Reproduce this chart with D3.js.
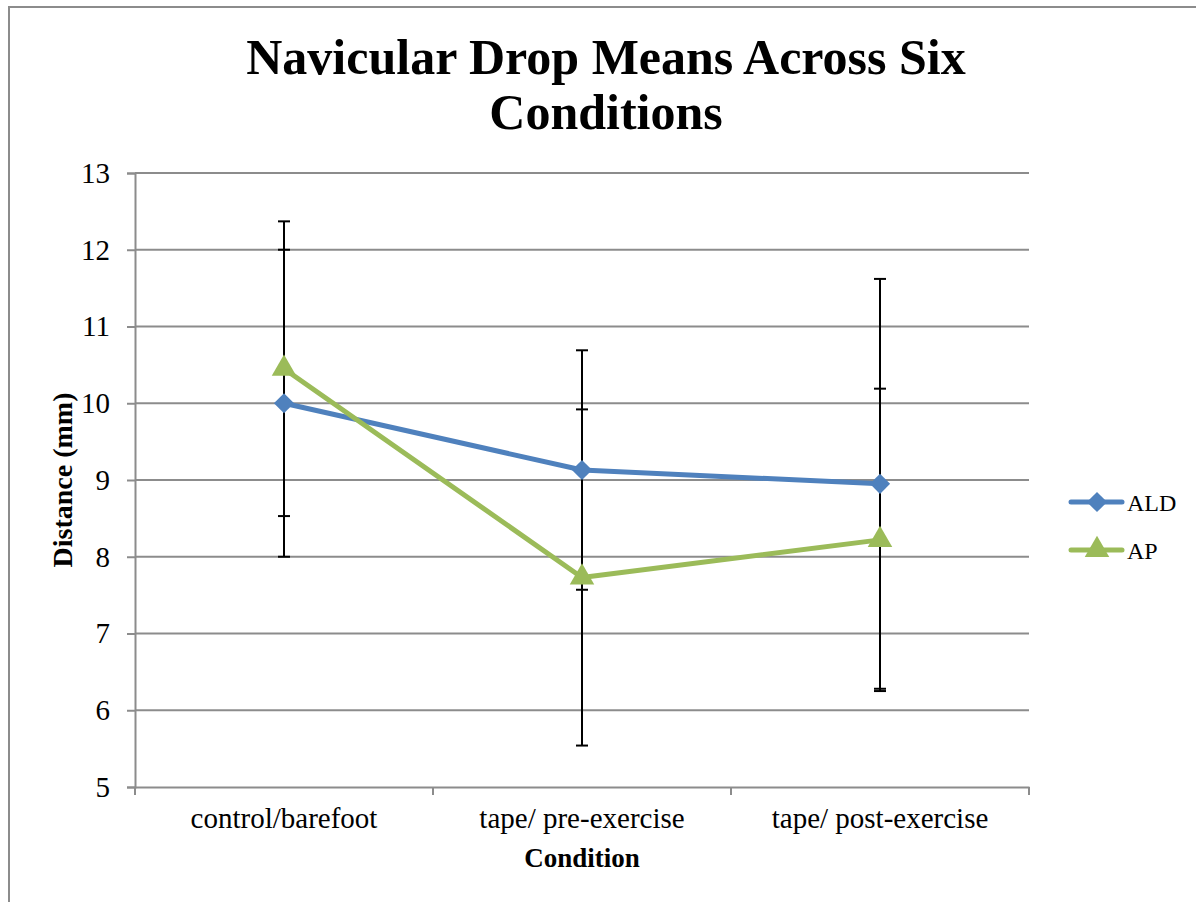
<!DOCTYPE html>
<html>
<head>
<meta charset="utf-8">
<script src="https://cdn.jsdelivr.net/npm/d3@7"></script>
<style>
  html, body { margin: 0; padding: 0; background: #fff; }
  svg { display: block; }
  text { font-family: "Liberation Serif", "DejaVu Serif", serif; }
</style>
</head>
<body>
<svg id="chart" width="1196" height="902"></svg>
<script>
const categories = ["control/barefoot", "tape/ pre-exercise", "tape/ post-exercise"];
const seriesNames = ["ALD", "AP"];
const aldMeans = [10.0, 9.13, 8.95];
const aldErrors = [2.0, 1.56, 2.67];
const apMeans = [10.45, 7.73, 8.22];
const apErrors = [1.92, 2.19, 1.97];
const yTicks = [5, 6, 7, 8, 9, 10, 11, 12, 13];
const titleLines = ["Navicular Drop Means Across Six", "Conditions"];
const xTitle = "Condition";
const yTitle = "Distance (mm)";

const colors = { ALD: "#4F81BD", AP: "#9BBB59" };
const series = [
  { name: seriesNames[0], means: aldMeans, errs: aldErrors },
  { name: seriesNames[1], means: apMeans, errs: apErrors }
];

const svg = d3.select("#chart");
const L = 135, R = 1029, T = 173, B = 787;

// frame
svg.append("rect").attr("x", 9).attr("y", 7).attr("width", 1300).attr("height", 1000)
  .attr("fill", "#fff").attr("stroke", "#8c8c8c").attr("stroke-width", 2);

const x = d3.scaleBand().domain(categories).range([L, R]).padding(0);
const y = d3.scaleLinear().domain([5, 13]).range([B, T]);
const cx = c => x(c) + x.bandwidth() / 2;

// gridlines
svg.append("g").selectAll("line").data(yTicks.filter(v => v > 5)).join("line")
  .attr("x1", L).attr("x2", R).attr("y1", d => y(d)).attr("y2", d => y(d))
  .attr("stroke", "#8c8c8c").attr("stroke-width", 2);

// y axis
const yAxis = svg.append("g").attr("transform", `translate(${L},0)`)
  .call(d3.axisLeft(y).tickValues(yTicks).tickSize(8).tickPadding(17).tickFormat(d3.format("d")));
yAxis.select(".domain").attr("stroke", "#8c8c8c").attr("stroke-width", 2);
yAxis.selectAll(".tick line").attr("stroke", "#8c8c8c").attr("stroke-width", 2);
yAxis.selectAll("text").attr("font-size", 29).attr("fill", "#000")
  .style("font-family", "'Liberation Serif', serif");

// x axis
const xAxis = svg.append("g").attr("transform", `translate(0,${B})`)
  .call(d3.axisBottom(x).tickSize(0).tickPadding(20));
xAxis.select(".domain").attr("stroke", "#8c8c8c").attr("stroke-width", 2);
xAxis.selectAll("text").attr("font-size", 29).attr("fill", "#000")
  .style("font-family", "'Liberation Serif', serif");
// band boundary ticks
const bounds = categories.map(c => x(c)).concat([x(categories[categories.length - 1]) + x.bandwidth()]);
svg.append("g").selectAll("line").data(bounds).join("line")
  .attr("x1", d => d).attr("x2", d => d).attr("y1", B).attr("y2", B + 8)
  .attr("stroke", "#8c8c8c").attr("stroke-width", 2);

// error bars
series.forEach(s => {
  const g = svg.append("g");
  categories.forEach((c, i) => {
    const hi = s.means[i] + s.errs[i], lo = s.means[i] - s.errs[i];
    g.append("line").attr("x1", cx(c)).attr("x2", cx(c)).attr("y1", y(hi)).attr("y2", y(lo))
      .attr("stroke", "#000").attr("stroke-width", 2);
    [hi, lo].forEach(v => g.append("line").attr("x1", cx(c) - 6).attr("x2", cx(c) + 6)
      .attr("y1", y(v)).attr("y2", y(v)).attr("stroke", "#000").attr("stroke-width", 2));
  });
});

// lines + markers
const line = d3.line().x((d, i) => cx(categories[i])).y(d => y(d));
const diamond = d3.symbol().type(d3.symbolDiamond2).size(260);
const triangle = d3.symbol().type(d3.symbolTriangle).size(260);
series.forEach(s => {
  svg.append("path").datum(s.means).attr("d", line).attr("fill", "none")
    .attr("stroke", colors[s.name]).attr("stroke-width", 5).attr("stroke-linejoin", "round");
});
series.forEach(s => {
  const sym = s.name === "ALD" ? diamond : triangle;
  svg.append("g").selectAll("path").data(s.means).join("path")
    .attr("d", sym)
    .attr("transform", (d, i) => `translate(${cx(categories[i])},${y(d)})`)
    .attr("fill", colors[s.name]);
});

// legend
const legend = svg.append("g");
series.forEach((s, i) => {
  const ly = 502 + i * 48;
  legend.append("line").attr("x1", 1071).attr("x2", 1122).attr("y1", ly).attr("y2", ly)
    .attr("stroke", colors[s.name]).attr("stroke-width", 5).attr("stroke-linecap", "round");
  legend.append("path").attr("d", s.name === "ALD" ? diamond : triangle)
    .attr("transform", `translate(1097,${ly})`).attr("fill", colors[s.name]);
  legend.append("text").attr("x", 1127).attr("y", ly + 9).attr("font-size", 24).text(s.name);
});

// titles
svg.append("g").selectAll("text").data(titleLines).join("text")
  .attr("x", 606).attr("y", (d, i) => 74 + i * 55)
  .attr("text-anchor", "middle").attr("font-size", 50).attr("font-weight", "bold").text(d => d);

svg.append("text").attr("x", 582).attr("y", 867).attr("text-anchor", "middle")
  .attr("font-size", 27).attr("font-weight", "bold").text(xTitle);

svg.append("text").attr("transform", "translate(72,480) rotate(-90)").attr("text-anchor", "middle")
  .attr("font-size", 28).attr("font-weight", "bold").text(yTitle);
</script>
</body>
</html>
